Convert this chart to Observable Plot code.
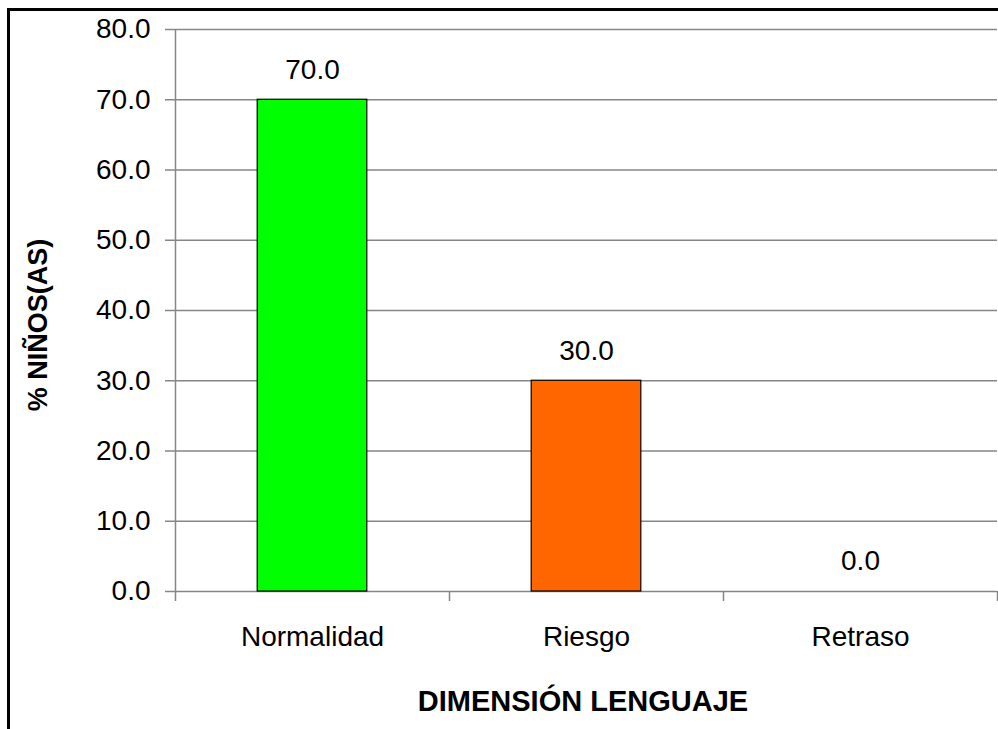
<!DOCTYPE html>
<html>
<head>
<meta charset="utf-8">
<script src="https://cdn.jsdelivr.net/npm/d3@7"></script>
<script src="https://cdn.jsdelivr.net/npm/@observablehq/plot@0.6"></script>
<style>
  html, body { margin: 0; padding: 0; overflow: hidden; background: #fff; }
  #wrap { position: relative; width: 998px; height: 729px; }
  #frame { position: absolute; left: 7px; top: 8px; width: 1020px; height: 760px; border: 3px solid #000; box-sizing: border-box; }
  #chart { position: absolute; left: 0; top: 0; }
  svg { font-family: "Liberation Sans", Arial, sans-serif; }
</style>
</head>
<body>
<div id="wrap"><div id="frame"></div><div id="chart"></div></div>
<script>
const categories = ["Normalidad", "Riesgo", "Retraso"];
const values = [70.0, 30.0, 0.0];
const colors = ["#00FF00", "#FF6600", "#3366FF"];
const yTicks = [0, 10, 20, 30, 40, 50, 60, 70, 80];
const yLabel = "% NIÑOS(AS)";
const xLabel = "DIMENSIÓN LENGUAJE";

const data = categories.map((c, i) => ({category: c, value: values[i], color: colors[i], idx: i}));
const fmt = d3.format(".1f");
const gray = "#868686";

const plot = Plot.plot({
  width: 998,
  height: 729,
  marginLeft: 175,
  marginRight: 1,
  marginTop: 29,
  marginBottom: 138,
  style: {fontFamily: '"Liberation Sans", Arial, sans-serif', fontSize: "28px", color: "#000", background: "transparent"},
  x: {type: "linear", domain: [0, categories.length], axis: null},
  y: {domain: [0, 80], axis: null},
  marks: [
    Plot.ruleY(yTicks, {stroke: gray, strokeWidth: 1.5}),
    Plot.ruleX([0], {y1: 0, y2: 80, stroke: gray, strokeWidth: 1.5}),
    Plot.axisX({ticks: d3.range(0, categories.length + 1), tickSize: 10, tickFormat: () => "", label: null, stroke: gray, strokeWidth: 1.5}),
    Plot.axisY({ticks: yTicks, tickSize: 10, tickPadding: 15, tickFormat: fmt, label: null, stroke: gray, strokeWidth: 1.5, fill: "#000", fontSize: 28}),
    Plot.rectY(data, {x1: d => d.idx + 0.3, x2: d => d.idx + 0.7, y1: 0, y2: "value", fill: "color", stroke: "#000", strokeWidth: 1.2}),
    Plot.text(data, {x: d => d.idx + 0.5, y: "value", text: d => fmt(d.value), dy: -30, lineAnchor: "middle", fontSize: 28, fill: "#000"}),
    Plot.text(data, {x: d => d.idx + 0.5, y: 0, text: "category", dy: 46, lineAnchor: "middle", fontSize: 28, fill: "#000"})
  ]
});
document.getElementById("chart").appendChild(plot);

const svg = d3.select(plot);
svg.append("text")
  .attr("transform", "translate(38,325) rotate(-90)")
  .attr("text-anchor", "middle")
  .attr("dominant-baseline", "central")
  .style("font-weight", "bold")
  .style("font-size", "27px")
  .attr("fill", "#000")
  .text(yLabel);
svg.append("text")
  .attr("x", 583)
  .attr("y", 701)
  .attr("text-anchor", "middle")
  .attr("dominant-baseline", "central")
  .style("font-weight", "bold")
  .style("font-size", "29px")
  .attr("fill", "#000")
  .text(xLabel);
</script>
</body>
</html>
